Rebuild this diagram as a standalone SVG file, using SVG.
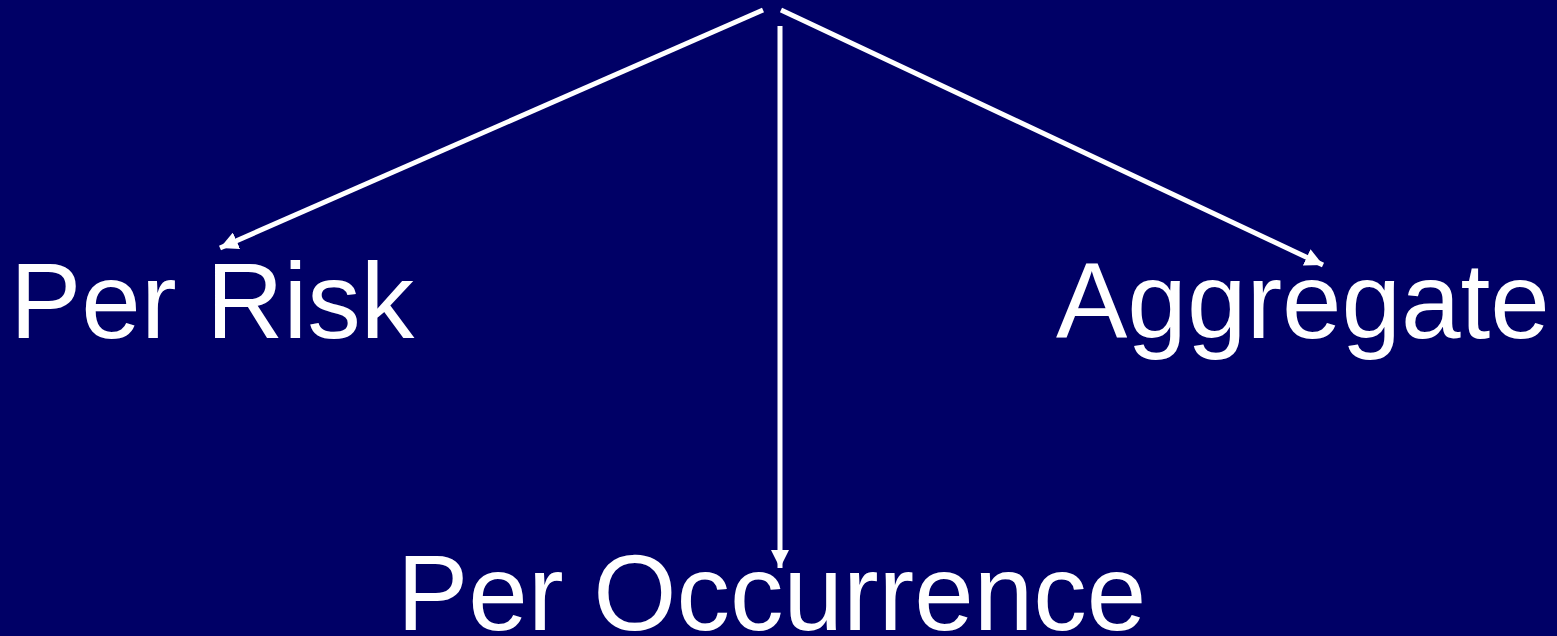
<svg xmlns="http://www.w3.org/2000/svg" width="1557" height="636" viewBox="0 0 1557 636">
<style>
.lbl{font-family:"Liberation Sans",Arial,sans-serif;font-size:107px;fill:#ffffff}
.c{stroke:#ffffff;stroke-width:5;fill:none}
</style>
<defs>
<marker id="ah" viewBox="0 0 10 10" refX="10" refY="5" markerWidth="3.6" markerHeight="3.6" orient="auto" markerUnits="strokeWidth">
<path d="M0,0 L10,5 L0,10 z" fill="#ffffff"/>
</marker>
</defs>
<rect width="1557" height="636" fill="#000066"/>
<g id="connectors">
<line class="c" x1="763" y1="10" x2="220" y2="248" marker-end="url(#ah)"/>
<line class="c" x1="780" y1="26" x2="780" y2="568" marker-end="url(#ah)"/>
<line class="c" x1="781" y1="10" x2="1323" y2="265" marker-end="url(#ah)"/>
</g>
<g id="per-risk"><text class="lbl" x="10" y="338">Per Risk</text></g>
<g id="aggregate"><text class="lbl" x="1056" y="338">Aggregate</text></g>
<g id="per-occurrence"><text class="lbl" x="397" y="630">Per Occurrence</text></g>
</svg>
